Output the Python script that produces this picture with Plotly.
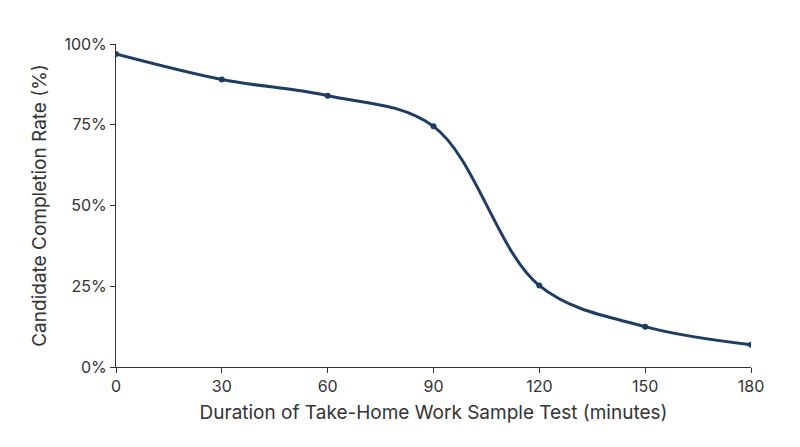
import plotly.graph_objects as go

durations = [0, 30, 60, 90, 120, 150, 180]
completion = [96.9, 89.0, 84.0, 74.5, 25.2, 12.5, 6.9]
y_ticks = [0, 25, 50, 75, 100]
y_labels = ["0%", "25%", "50%", "75%", "100%"]

fig = go.Figure(go.Scatter(
    x=durations, y=completion, mode="lines+markers",
    line=dict(color="#1d3d63", width=3, shape="spline", smoothing=1.0),
    marker=dict(size=6, color="#1d3d63"),
))
fig.update_layout(
    width=800, height=447, plot_bgcolor="white", paper_bgcolor="white",
    margin=dict(l=108, r=57, t=36, b=88, autoexpand=False),
    font=dict(family="Inter", size=16, color="#333"),
    showlegend=False,
)
fig.update_xaxes(range=[0, 180], tickvals=durations, showgrid=False, zeroline=False,
                 showline=True, linecolor="#333", linewidth=1, ticks="outside",
                 ticklen=5, tickcolor="#333",
                 title=dict(text="Duration of Take-Home Work Sample Test (minutes)", standoff=10))
fig.update_yaxes(range=[0, 100], tickvals=y_ticks, ticktext=y_labels, showgrid=False,
                 zeroline=False, showline=True, linecolor="#333", linewidth=1,
                 ticks="outside", ticklen=5, tickcolor="#333",
                 title=dict(text="Candidate Completion Rate (%)", standoff=12))
fig.write_html("out.html")
